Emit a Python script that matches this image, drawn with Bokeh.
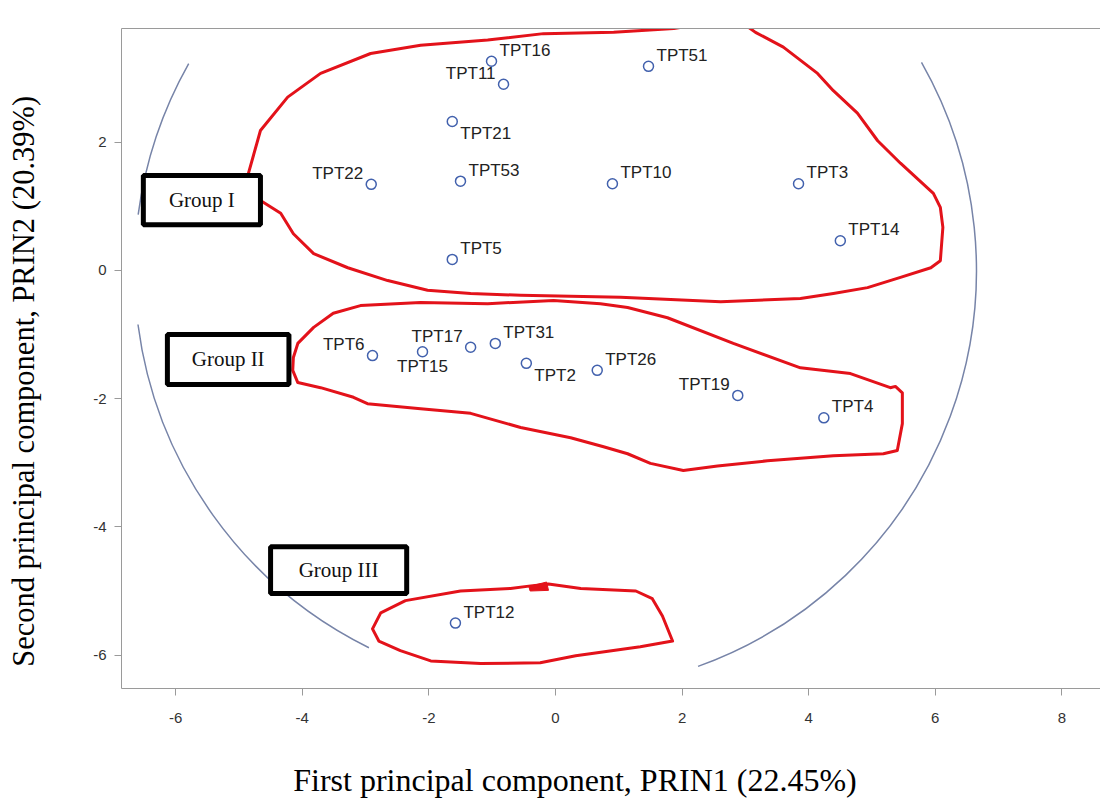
import numpy as np
from bokeh.plotting import figure
from bokeh.models import ColumnDataSource, LinearAxis, FixedTicker
from bokeh.embed import file_html
from bokeh.resources import INLINE
from bokeh.core.properties import value

# ---- data ----
names = ["TPT16", "TPT11", "TPT51", "TPT21", "TPT22", "TPT53", "TPT10", "TPT3", "TPT14", "TPT5",
         "TPT6", "TPT15", "TPT17", "TPT31", "TPT2", "TPT26", "TPT19", "TPT4", "TPT12"]
prin1 = [-1.01, -0.82, 1.47, -1.63, -2.91, -1.50, 0.90, 3.84, 4.50, -1.63,
         -2.89, -2.10, -1.34, -0.95, -0.46, 0.66, 2.88, 4.24, -1.58]
prin2 = [3.26, 2.90, 3.18, 2.32, 1.34, 1.39, 1.35, 1.35, 0.46, 0.17,
         -1.33, -1.27, -1.20, -1.14, -1.45, -1.56, -1.95, -2.30, -5.50]
label_side = ["ne", "nw", "ne", "se", "nw", "ne", "ne", "ne", "ne", "ne",
              "nw", "s", "nw", "ne", "se", "ne", "nw", "ne", "ne"]

x_ticks = [-6, -4, -2, 0, 2, 4, 6, 8]
y_ticks = [-6, -4, -2, 0, 2]
x_title = "First principal component, PRIN1 (22.45%)"
y_title = "Second principal component, PRIN2 (20.39%)"

# reference circle (arc pieces, degrees)
circle_radius = 6.65
arc_start_deg = [-70.2, 150.6, 187.4]
arc_end_deg = [29.6, 172.4, 243.7]

# hand-drawn group outlines (data units)
group1_x = [-4.85, -4.66, -4.23, -3.71, -2.92, -2.13, -1.07, -0.19, 0.92, 1.87, 2.50, 2.92, 3.16,
            3.60, 4.14, 4.39, 4.77, 5.09, 5.45, 5.97, 6.08, 6.12, 6.08, 5.93, 5.45, 4.93, 4.39,
            3.87, 2.61, 1.03, -0.55, -1.34, -2.02, -2.65, -3.28, -3.82, -4.14, -4.34, -4.66]
group1_y = [1.51, 2.18, 2.70, 3.07, 3.38, 3.51, 3.59, 3.69, 3.71, 3.77, 3.87, 3.88, 3.71,
            3.48, 3.07, 2.80, 2.45, 2.02, 1.67, 1.20, 0.98, 0.67, 0.15, 0.04, -0.11, -0.27, -0.36,
            -0.44, -0.49, -0.42, -0.39, -0.36, -0.31, -0.16, 0.04, 0.26, 0.57, 0.89, 1.09]
group2_x = [-4.07, -3.82, -3.51, -3.08, -2.13, -1.07, -0.03, 0.71, 1.14, 1.77, 2.81, 3.87, 4.66,
            5.29, 5.37, 5.48, 5.48, 5.40, 5.18, 4.39, 3.35, 2.56, 2.02, 1.50, 1.14, 0.76, 0.24,
            -0.55, -1.34, -2.13, -2.97, -3.19, -3.71, -4.07, -4.15, -4.14]
group2_y = [-1.14, -0.89, -0.67, -0.55, -0.50, -0.52, -0.47, -0.52, -0.58, -0.74, -1.14, -1.52, -1.61,
            -1.83, -1.81, -1.91, -2.39, -2.81, -2.86, -2.89, -2.97, -3.05, -3.12, -3.01, -2.86, -2.75, -2.61,
            -2.45, -2.23, -2.16, -2.08, -1.98, -1.83, -1.75, -1.56, -1.36]
group3_x = [-2.89, -2.76, -2.37, -1.50, -0.71, -0.39, -0.11, 0.40, 1.27, 1.53, 1.69, 1.85,
            1.34, 0.32, -0.24, -1.18, -1.97, -2.45, -2.79]
group3_y = [-5.59, -5.34, -5.15, -5.00, -4.96, -4.92, -4.89, -4.96, -5.00, -5.12, -5.39, -5.78,
            -5.87, -6.01, -6.12, -6.13, -6.09, -5.93, -5.78]
blob_x = [-0.42, -0.14, -0.11, -0.40]
blob_y = [-4.93, -4.86, -4.99, -5.00]

group_names = ["Group I", "Group II", "Group III"]
box_left = [-6.51, -6.13, -4.50]
box_right = [-4.66, -4.21, -2.35]
box_top = [1.48, -1.00, -4.31]
box_bottom = [0.71, -1.78, -5.04]

# ---- styles ----
side_style = {
    "ne": (8, -11, "left"),
    "nw": (-8, -11, "right"),
    "se": (8, 12, "left"),
    "s": (0, 15, "center"),
}
NB = "\u00a0"

p = figure(width=1100, height=803,
           x_range=(-6.855, 8.61), y_range=(-6.52, 3.77),
           output_backend="svg", toolbar_location=None,
           min_border_left=121, min_border_right=0,
           min_border_top=28, min_border_bottom=115)
p.grid.visible = False
p.outline_line_color = None
p.background_fill_color = "white"

axis_col = "#9a9a9a"
for ax, ticks, standoff in ((p.xaxis[0], x_ticks, 17), (p.yaxis[0], y_ticks, 8)):
    ax.ticker = FixedTicker(ticks=ticks)
    ax.major_label_overrides = {t: str(t) for t in ticks}
    ax.axis_line_color = axis_col
    ax.major_tick_line_color = axis_col
    ax.major_tick_out = 7
    ax.major_tick_in = 0
    ax.minor_tick_line_color = None
    ax.major_label_text_font = "Liberation Sans"
    ax.major_label_text_font_size = "15px"
    ax.major_label_text_color = "#333333"
    ax.major_label_standoff = standoff
    ax.axis_label_text_font = "Liberation Serif"
    ax.axis_label_text_font_style = "normal"
    ax.axis_label_text_color = "black"

# titles shifted off-centre as in the reference (padding with no-break spaces)
p.xaxis[0].axis_label = x_title + NB * 9
p.xaxis[0].axis_label_text_font_size = "32px"
p.xaxis[0].axis_label_standoff = 36
p.yaxis[0].axis_label = y_title + NB * 6
p.yaxis[0].axis_label_text_font_size = "30.5px"
p.yaxis[0].axis_label_standoff = 49

top_axis = LinearAxis(axis_line_color=axis_col, major_tick_line_color=None,
                      minor_tick_line_color=None, major_label_text_font_size="0px",
                      major_label_text_color=None, major_label_standoff=0)
p.add_layout(top_axis, "above")

# circle arcs
p.arc(x=0, y=0, radius=circle_radius,
      start_angle=list(np.deg2rad(arc_start_deg)), end_angle=list(np.deg2rad(arc_end_deg)),
      direction="anticlock", line_color="#7784a8", line_width=1.5)

# red outlines
red = "#e3121a"
p.patches(xs=[group1_x, group2_x, group3_x], ys=[group1_y, group2_y, group3_y],
          fill_color=None, line_color=red, line_width=3, line_join="round")
p.patch(blob_x, blob_y, fill_color=red, line_color=red, line_width=1)

# points
src = ColumnDataSource(dict(
    x=prin1, y=prin2, name=names,
    xo=[side_style[s][0] for s in label_side],
    yo=[side_style[s][1] for s in label_side],
    al=[side_style[s][2] for s in label_side],
))
p.scatter("x", "y", source=src, marker="circle", size=10, fill_color=None,
          line_color="#4261ad", line_width=1.5)
p.text("x", "y", text="name", source=src, x_offset="xo", y_offset="yo", text_align="al",
       text_baseline="middle", text_font=value("Liberation Sans"), text_font_size="17px",
       text_color="#222222")

# group boxes
bsrc = ColumnDataSource(dict(
    l=box_left, r=box_right, t=box_top, b=box_bottom, name=group_names,
    cx=[(a + b) / 2 for a, b in zip(box_left, box_right)],
    cy=[(a + b) / 2 for a, b in zip(box_top, box_bottom)],
))
p.quad(left="l", right="r", top="t", bottom="b", source=bsrc, fill_color="white",
       line_color="black", line_width=5)
p.text("cx", "cy", text="name", source=bsrc, text_align="center", text_baseline="middle",
       text_font=value("Liberation Serif"), text_font_size="21px", text_color="#111111")

open("out.html", "w").write(file_html(p, INLINE))
